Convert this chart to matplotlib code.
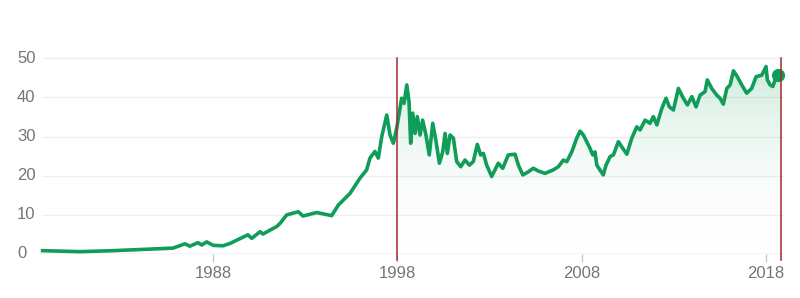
import numpy as np
import matplotlib
matplotlib.use("Agg")
import matplotlib.pyplot as plt
from matplotlib.colors import LinearSegmentedColormap
import matplotlib.transforms as mtransforms

# ---- data ----
years = [1978.73, 1980.76, 1982.55, 1984.38, 1985.81, 1986.46, 1986.73, 1987.17, 1987.37,
         1987.64, 1988.00, 1988.53, 1988.91, 1989.88, 1990.09, 1990.54, 1990.70, 1991.08,
         1991.44, 1991.62, 1991.99, 1992.62, 1992.87, 1993.62, 1994.43, 1994.79, 1995.43,
         1995.97, 1996.33, 1996.51, 1996.78, 1996.96, 1997.15, 1997.42,
         1997.60, 1997.78, 1997.96, 1998.23, 1998.36, 1998.51, 1998.63, 1998.72, 1998.83,
         1998.96, 1999.08, 1999.23, 1999.37, 1999.55, 1999.73, 1999.92, 2000.10, 2000.28,
         2000.46, 2000.59, 2000.71, 2000.86, 2001.04, 2001.22, 2001.44, 2001.67, 2001.91,
         2002.12, 2002.34, 2002.52, 2002.67, 2002.85, 2003.12, 2003.30, 2003.48, 2003.72,
         2004.02, 2004.39, 2004.57, 2004.81, 2005.11, 2005.38, 2005.65, 2006.02, 2006.47,
         2006.74, 2007.01, 2007.20, 2007.47, 2007.74, 2007.92, 2008.10, 2008.28, 2008.46,
         2008.61, 2008.73, 2008.83, 2009.00, 2009.18, 2009.33, 2009.55, 2009.73, 2010.00,
         2010.24, 2010.46, 2010.73, 2011.00, 2011.18, 2011.45, 2011.72, 2011.90, 2012.09,
         2012.36, 2012.59, 2012.77, 2012.99, 2013.26, 2013.53, 2013.75, 2013.99, 2014.22,
         2014.44, 2014.71, 2014.83, 2015.07, 2015.34, 2015.52, 2015.70, 2015.89, 2016.07,
         2016.25, 2016.46, 2016.70, 2016.97, 2017.24, 2017.48, 2017.79, 2018.02, 2018.09,
         2018.24, 2018.39, 2018.60, 2018.69]
values = [0.85, 0.6, 0.85, 1.2, 1.5, 2.6, 2.0, 2.9, 2.3,
          3.1, 2.2, 2.1, 2.7, 4.9, 4.0, 5.7, 5.1, 6.1,
          7.0, 7.8, 10.0, 10.8, 9.7, 10.6, 9.8, 12.5, 15.5,
          19.4, 21.5, 24.5, 26.2, 24.5, 30.0, 35.5,
          30.4, 28.3, 32.1, 39.8, 38.5, 43.2, 38.9, 28.3, 36.0,
          30.8, 35.1, 30.4, 34.2, 30.4, 25.3, 33.4, 28.7, 23.2,
          26.1, 30.8, 25.7, 30.4, 29.6, 23.6, 22.3, 24.0, 22.7,
          23.6, 28.0, 25.3, 25.7, 22.7, 19.8, 21.5, 23.2, 21.9,
          25.3, 25.5, 22.7, 20.2, 21.0, 21.9, 21.2, 20.6, 21.5,
          22.3, 24.0, 23.6, 26.1, 29.6, 31.4, 30.4, 28.7, 27.0,
          25.3, 26.1, 22.7, 21.5, 20.2, 22.7, 24.9, 25.3, 28.7,
          27.0, 25.5, 29.6, 32.5, 31.7, 34.2, 33.4, 35.1, 33.0,
          37.2, 39.8, 37.6, 36.8, 42.3, 39.8, 38.1, 40.2, 37.6,
          40.6, 41.5, 44.5, 42.3, 40.6, 39.8, 38.3, 42.3, 43.2,
          46.8, 45.3, 43.2, 41.1, 42.3, 45.3, 45.7, 47.9, 44.5,
          43.2, 42.8, 45.7, 45.7]
xtick_years = [1988, 1998, 2008, 2018]
ytick_values = [0, 10, 20, 30, 40, 50]
range_start = 1998.0
range_end = 2018.82

GREEN = "#0f9d58"
RED = "#a52a2a"
GRAY_TXT = "#757575"
FONT = ["Liberation Sans", "DejaVu Sans"]

fig = plt.figure(figsize=(8.0, 2.98), dpi=100)
ax = fig.add_axes([38 / 800, 1 - 254 / 298, (785 - 38) / 800, (254 - 50) / 298])
ax.set_xlim(1978.48, 2019.05)
ax.set_ylim(0, 50 + 8.3 / 3.913)

x = np.array(years)
y = np.array(values)

# gradient fill under the selected range
cmap = LinearSegmentedColormap.from_list(
    "g", [(1, 1, 1, 0), (15 / 255, 157 / 255, 88 / 255, 0.22)])
grad = np.linspace(0, 1, 256).reshape(-1, 1)
im = ax.imshow(grad, extent=[range_start, range_end, 0, 50], origin="lower",
               cmap=cmap, aspect="auto", zorder=1, interpolation="bicubic")
mask = x >= range_start
px = np.concatenate([[range_start], x[mask], [range_end]])
py0 = np.interp(range_start, x, y)
py = np.concatenate([[py0], y[mask], [y[-1]]])
poly_x = np.concatenate([px, [range_end, range_start]])
poly_y = np.concatenate([py, [0, 0]])
patch = plt.Polygon(np.column_stack([poly_x, poly_y]), closed=True,
                    facecolor="none", edgecolor="none")
ax.add_patch(patch)
im.set_clip_path(patch)

# gridlines
for v in ytick_values[1:]:
    ax.axhline(v, xmin=(43 - 38) / (785 - 38), xmax=1, color="#eeeeee", lw=0.9, zorder=0)
ax.axhline(0, color="#c4c4c4", lw=1.0, zorder=2)

# line + end dot
ax.plot(x, y, color=GREEN, lw=2.6, zorder=4, solid_joinstyle="round")
ax.plot([x[-1]], [y[-1]], "o", color=GREEN, ms=8.5, zorder=5, clip_on=False)

# range markers
for xv in [range_start, range_end]:
    ax.plot([xv, xv], [-1.6, 50], color=RED, lw=1.1, zorder=6, clip_on=False)

# x ticks
ax.set_xticks(xtick_years)
ax.set_xticklabels([str(v) for v in xtick_years], family=FONT)
ax.tick_params(axis="x", length=6, width=0.9, color="#c4c4c4", pad=3,
               labelsize=12, labelcolor=GRAY_TXT)
ax.set_yticks([])
trans = mtransforms.blended_transform_factory(fig.transFigure, ax.transData)
for v in ytick_values:
    ax.text(17 / 800, v, str(v), transform=trans, ha="left", va="center",
            fontsize=12, color=GRAY_TXT, family=FONT)

for s in ax.spines.values():
    s.set_visible(False)

fig.savefig("out.png", dpi=100)
